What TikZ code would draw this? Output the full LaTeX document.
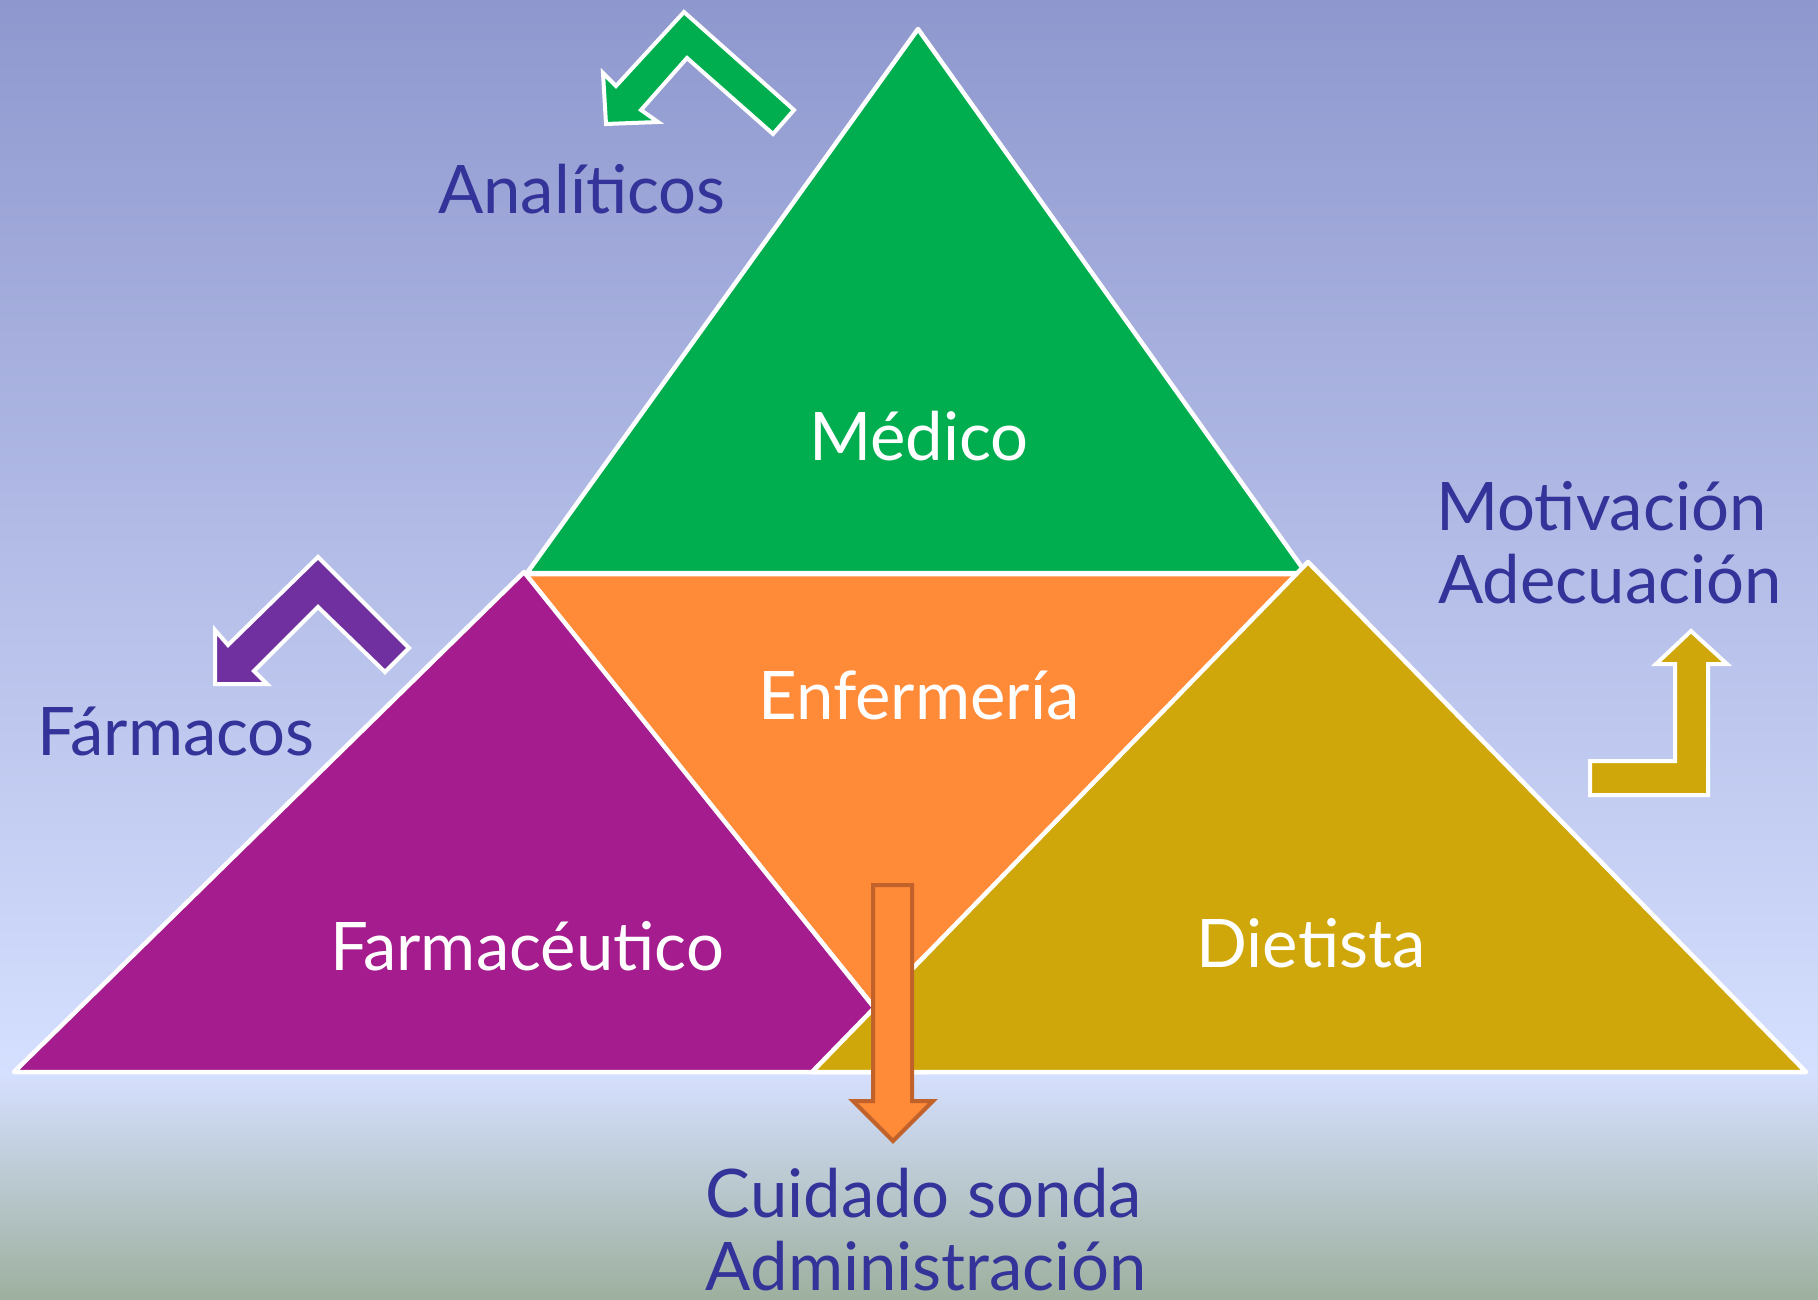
\documentclass[tikz,border=0pt]{standalone}
\usepackage{fontspec}
\setmainfont{Lato}
\definecolor{bgtop}{HTML}{8F98CE}
\definecolor{bgmid}{HTML}{D5DFFE}
\definecolor{bgbot}{HTML}{9DB09E}
\definecolor{cgreen}{HTML}{00AE50}
\definecolor{corange}{HTML}{FF8A38}
\definecolor{corangedk}{HTML}{C0622A}
\definecolor{cpurple}{HTML}{A41C8E}
\definecolor{cgold}{HTML}{CFA70B}
\definecolor{cviolet}{HTML}{7030A0}
\definecolor{ctext}{HTML}{333399}
\begin{document}
\begin{tikzpicture}[x=1pt,y=-1pt,
  tri/.style={draw=white, line width=4.5pt, line join=round},
  blockarrow/.style={draw=white, line width=4pt, line join=miter},
  lbl/.style={font=\fontsize{67}{73}\selectfont, text=ctext, inner sep=0pt, anchor=base},
  wlbl/.style={font=\fontsize{67}{73}\selectfont, text=white, inner sep=0pt, anchor=base}]
\useasboundingbox (0,0) rectangle (1818,1300);
\shade[top color=bgtop, bottom color=bgmid] (0,0) rectangle (1818,1076);
\shade[top color=bgmid, bottom color=bgbot] (0,1075) rectangle (1818,1300);
% triangles
\filldraw[tri, fill=cgreen] (918,29) -- (527,573) -- (1306,573) -- cycle;
\filldraw[tri, fill=corange] (524,574) -- (1305,574) -- (874,1007) -- cycle;
\filldraw[tri, fill=cpurple] (524,572) -- (14,1072) -- (926,1072) -- cycle;
\filldraw[tri, fill=cgold] (1308,562) -- (812,1072) -- (1806,1072) -- cycle;
% green bent arrow
\filldraw[blockarrow, fill=cgreen] (684,12) -- (794,110) -- (773,134) -- (687,58) -- (641,110) -- (658,122) -- (606,124) -- (603,73) -- (616,86) -- cycle;
% violet bent arrow
\filldraw[blockarrow, fill=cviolet] (318,557) -- (409,648) -- (385,672) -- (318,607) -- (254,671) -- (267,684) -- (215,684) -- (215,630) -- (228,645) -- cycle;
% gold bent arrow
\filldraw[blockarrow, fill=cgold] (1691,631) -- (1727,664) -- (1708,664) -- (1708,795) -- (1590,795) -- (1590,761) -- (1675,761) -- (1675,664) -- (1656,664) -- cycle;
% orange down arrow
\filldraw[draw=corangedk, line width=4pt, fill=corange] (873,885) -- (912,885) -- (912,1101) -- (933,1101) -- (893,1141) -- (853,1101) -- (873,1101) -- cycle;
% labels
\node[lbl] (analiticos) at (582,214) {Analíticos};
\node[wlbl] (medico) at (919,460) {Médico};
\node[wlbl] (enfermeria) at (919,719) {Enfermería};
\node[lbl] (farmacos) at (176,755) {Fármacos};
\node[wlbl] (farmaceutico) at (527,970) {Farmacéutico};
\node[wlbl] (dietista) at (1311,967) {Dietista};
\node[lbl, anchor=base west] (motivacion) at (1436,530) {Motivación};
\node[lbl, anchor=base west] (adecuacion) at (1438,603) {Adecuación};
\node[lbl] (cuidado) at (924,1217) {Cuidado sonda};
\node[lbl] (administracion) at (926,1290) {Administración};
\end{tikzpicture}
\end{document}
